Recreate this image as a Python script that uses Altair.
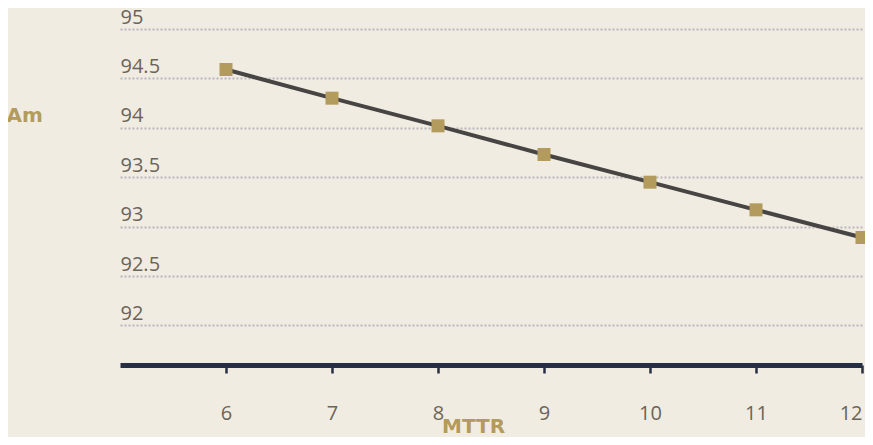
import altair as alt
import pandas as pd

mttr = [6, 7, 8, 9, 10, 11, 12]
am = [94.59, 94.30, 94.02, 93.73, 93.45, 93.17, 92.89]
y_ticks = [92, 92.5, 93, 93.5, 94, 94.5, 95]
x_ticks = [6, 7, 8, 9, 10, 11, 12]

df = pd.DataFrame({"MTTR": mttr, "Am": am})

LABEL_FONT = "Open Sans"
TITLE_FONT = "DejaVu Sans"
GOLD = "#b29b5d"
LABEL_COLOR = "#6b6458"
NAVY = "#262e44"

x_enc = alt.X(
    "MTTR:Q",
    scale=alt.Scale(domain=[5, 12], nice=False, zero=False),
    axis=alt.Axis(
        values=x_ticks,
        format="d",
        title="MTTR",
        grid=False,
        domainColor=NAVY,
        domainWidth=5,
        tickColor=NAVY,
        tickWidth=2.5,
        tickSize=8,
        labelPadding=30,
        labelFont=LABEL_FONT,
        labelFontSize=20,
        labelColor=LABEL_COLOR,
        labelBaseline="top",
        labelFlush=True,
        labelOverlap=False,
        titleFont=TITLE_FONT,
        titleFontSize=20,
        titleFontWeight="bold",
        titleColor=GOLD,
        titleX=353,
        titleY=61,
        titleAlign="center",
        titleBaseline="middle",
    ),
)

y_enc = alt.Y(
    "Am:Q",
    scale=alt.Scale(domain=[91.6, 95], nice=False, zero=False),
    axis=alt.Axis(
        values=y_ticks,
        format="~g",
        title="Am",
        domain=False,
        ticks=False,
        tickSize=0,
        labelPadding=0,
        labelAlign="left",
        labelBaseline="alphabetic",
        labelOffset=-6,
        labelFont=LABEL_FONT,
        labelFontSize=20,
        labelColor=LABEL_COLOR,
        labelOverlap=False,
        labelFlush=False,
        grid=True,
        gridColor="#bab6bd",
        gridDash=[2, 2],
        gridWidth=2,
        titleFont=TITLE_FONT,
        titleFontSize=20,
        titleFontWeight="bold",
        titleColor=GOLD,
        titleAngle=0,
        titleAlign="left",
        titleBaseline="middle",
        titleX=-114,
        titleY=86,
    ),
)

line = alt.Chart(df).mark_line(color="#464544", strokeWidth=4).encode(x=x_enc, y=y_enc)
points = alt.Chart(df).mark_square(size=169, color=GOLD, opacity=1).encode(x="MTTR:Q", y="Am:Q")

chart = (
    alt.layer(line, points)
    .properties(
        width=742,
        height=336,
        background="#f1ece2",
        padding={"left": 112, "top": 21, "right": 3, "bottom": 72},
        autosize=alt.AutoSizeParams(type="none"),
    )
    .configure_view(stroke=None)
)

chart.save("out.html", embed_options={"renderer": "svg", "actions": False})
